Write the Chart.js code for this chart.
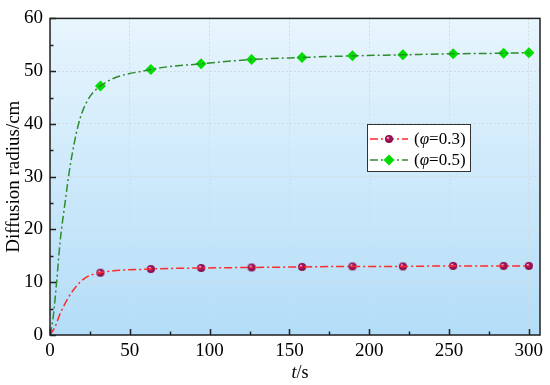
<!DOCTYPE html>
<html>
<head>
<meta charset="utf-8">
<script src="https://cdn.jsdelivr.net/npm/chart.js@4.4.1/dist/chart.umd.min.js"></script>
<style>
  html, body { margin: 0; padding: 0; background: #fff; }
  #wrap { width: 550px; height: 385px; }
  .probe { font-family: 'Liberation Serif'; position: absolute; left: -999px; }
</style>
</head>
<body>
<span class="probe">0 (φ=0.3) t/s</span>
<span class="probe" style="font-style:italic">t φ</span>
<div id="wrap"><canvas id="chart" width="550" height="385"></canvas></div>
<script>
// sampled times (s) for the markers
const markerT = [31.6, 63.2, 94.7, 126.3, 157.9, 189.5, 221.1, 252.6, 284.2, 300];
const radius03 = [11.8, 12.5, 12.7, 12.8, 12.9, 13.0, 13.0, 13.1, 13.1, 13.1];
const radius05 = [47.2, 50.3, 51.4, 52.2, 52.6, 52.9, 53.1, 53.3, 53.4, 53.5];

// early part of the fitted curves
const curveT03 = [0, 3.1, 6.3, 11.5, 16.7, 21.9];
const curveR03 = [0, 1.5, 4.0, 7.1, 9.3, 10.8];
const curveT05 = [0, 2.0, 4.2, 6.3, 9.4, 12.5, 17.7, 22.9];
const curveR05 = [0, 3.4, 10.2, 17.6, 25.0, 31.8, 39.8, 44.1];

const xTicks = [0, 50, 100, 150, 200, 250, 300];
const yTicks = [0, 10, 20, 30, 40, 50, 60];
const legendLabels = ['0.3', '0.5'];

const serif = "'Liberation Serif', serif";

function toPoints(xs, ys) {
	return xs.map(function(x, i) { return { x: x, y: ys[i] }; });
}

// 공 모양 마커
function makeSphere(r) {
	const c = document.createElement('canvas');
	c.width = c.height = r * 2 + 2;
	const g = c.getContext('2d');
	const cx = r + 1;
	const grad = g.createRadialGradient(cx - r * 0.3, cx - r * 0.35, 0.3, cx, cx, r);
	grad.addColorStop(0, '#f4d0e0');
	grad.addColorStop(0.3, '#b81866');
	grad.addColorStop(1, '#7e0a44');
	g.fillStyle = grad;
	g.beginPath();
	g.arc(cx, cx, r, 0, Math.PI * 2);
	g.fill();
	return c;
}
const sphere = makeSphere(4);

const dashDot = [8, 3, 2, 3];

const plotDeco = {
	id: 'plotDeco',
	beforeDraw: function(chart) {
		const a = chart.chartArea;
		const ctx = chart.ctx;
		const grad = ctx.createLinearGradient(0, a.top, 0, a.bottom);
		grad.addColorStop(0, '#e8f5fd');
		grad.addColorStop(1, '#b3ddf8');
		ctx.save();
		ctx.fillStyle = grad;
		ctx.fillRect(a.left, a.top, a.right - a.left, a.bottom - a.top);
		ctx.restore();
	},
	afterDraw: function(chart) {
		const a = chart.chartArea;
		const ctx = chart.ctx;
		const xs = chart.scales.x;
		const ys = chart.scales.y;
		ctx.save();
		// frame
		ctx.strokeStyle = '#222';
		ctx.lineWidth = 1.5;
		ctx.strokeRect(a.left, a.top, a.right - a.left, a.bottom - a.top);
		// inward ticks
		ctx.beginPath();
		for (let v = 0; v <= 300; v += 25) {
			const px = Math.round(xs.getPixelForValue(v)) + 0.5;
			const len = v % 50 === 0 ? 6 : 3.5;
			ctx.moveTo(px, a.bottom);
			ctx.lineTo(px, a.bottom - len);
		}
		for (let v = 0; v <= 60; v += 5) {
			const py = Math.round(ys.getPixelForValue(v)) + 0.5;
			const len = v % 10 === 0 ? 6 : 3.5;
			ctx.moveTo(a.left, py);
			ctx.lineTo(a.left + len, py);
		}
		ctx.stroke();

		// axis titles
		ctx.fillStyle = '#000';
		ctx.textBaseline = 'middle';
		ctx.textAlign = 'left';
		ctx.font = 'italic 18px ' + serif;
		const tW = ctx.measureText('t').width;
		ctx.font = '18px ' + serif;
		const sW = ctx.measureText('/s').width;
		const tx = 300 - (tW + sW) / 2;
		ctx.font = 'italic 18px ' + serif;
		ctx.fillText('t', tx, 373);
		ctx.font = '18px ' + serif;
		ctx.fillText('/s', tx + tW, 373);

		ctx.save();
		ctx.translate(14, (a.top + a.bottom) / 2);
		ctx.rotate(-Math.PI / 2);
		ctx.textAlign = 'center';
		ctx.font = '19px ' + serif;
		ctx.fillText('Diffusion radius/cm', 0, 0);
		ctx.restore();

		// legend box
		const bx = 367, by = 124, bw = 103, bh = 47;
		ctx.fillStyle = '#ffffff';
		ctx.fillRect(bx, by, bw, bh);
		ctx.strokeStyle = '#333';
		ctx.lineWidth = 1;
		ctx.strokeRect(bx + 0.5, by + 0.5, bw, bh);
		const rows = [
			{ y: 139, line: '#ff2a2a', label: legendLabels[0], mark: 'sphere' },
			{ y: 160, line: '#2e8b2e', label: legendLabels[1], mark: 'diamond' }
		];
		rows.forEach(function(r) {
			ctx.strokeStyle = r.line;
			ctx.lineWidth = 1.5;
			ctx.setLineDash(dashDot);
			ctx.beginPath();
			ctx.moveTo(370, r.y);
			ctx.lineTo(408, r.y);
			ctx.stroke();
			ctx.setLineDash([]);
			if (r.mark === 'sphere') {
				ctx.drawImage(sphere, 389 - sphere.width / 2, r.y - sphere.height / 2);
			} else {
				ctx.fillStyle = '#00dd00';
				ctx.beginPath();
				ctx.moveTo(389, r.y - 5.5);
				ctx.lineTo(394.5, r.y);
				ctx.lineTo(389, r.y + 5.5);
				ctx.lineTo(383.5, r.y);
				ctx.closePath();
				ctx.fill();
			}
			ctx.fillStyle = '#000';
			let x = 414;
			const parts = [['(', false], ['\u03c6', true], ['=' + r.label + ')', false]];
			parts.forEach(function(p) {
				ctx.font = (p[1] ? 'italic ' : '') + '17px ' + serif;
				ctx.fillText(p[0], x, r.y + 1);
				x += ctx.measureText(p[0]).width;
			});
		});
		ctx.restore();
	}
};

function drawChart() {
	const ctx = document.getElementById('chart').getContext('2d');
	new Chart(ctx, {
		type: 'scatter',
		data: {
			datasets: [
				{
					label: 'curve 0.3',
					data: toPoints(curveT03.concat(markerT), curveR03.concat(radius03)),
					showLine: true,
					borderColor: '#ff2a2a',
					borderWidth: 1.5,
					borderDash: dashDot,
					pointRadius: 0,
					cubicInterpolationMode: 'monotone',
					fill: false
				},
				{
					label: 'curve 0.5',
					data: toPoints(curveT05.concat(markerT), curveR05.concat(radius05)),
					showLine: true,
					borderColor: '#2e8b2e',
					borderWidth: 1.5,
					borderDash: dashDot,
					pointRadius: 0,
					cubicInterpolationMode: 'monotone',
					fill: false
				},
				{
					label: '(φ=0.3)',
					data: toPoints(markerT, radius03),
					showLine: false,
					pointStyle: sphere,
					pointRadius: 4
				},
				{
					label: '(φ=0.5)',
					data: toPoints(markerT, radius05),
					showLine: false,
					pointStyle: 'rectRot',
					pointRadius: 5.5,
					backgroundColor: '#00dd00',
					borderColor: '#00dd00',
					borderWidth: 0
				}
			]
		},
		options: {
			responsive: false,
			animation: false,
			layout: { padding: { top: 11, right: 10, left: 0, bottom: 0 } },
			plugins: {
				legend: { display: false },
				tooltip: { enabled: false }
			},
			scales: {
				x: {
					type: 'linear',
					min: 0,
					max: 307,
					afterBuildTicks: function(s) {
						s.ticks = xTicks.map(function(v) { return { value: v }; });
					},
					afterFit: function(s) { s.height = 50; },
					grid: { color: '#d3dbe0', lineWidth: 1, drawTicks: false },
					border: { display: false, dash: [2, 2] },
					ticks: {
						color: '#000',
						font: { family: serif, size: 19 },
						padding: 5,
						maxRotation: 0
					}
				},
				y: {
					type: 'linear',
					min: 0,
					max: 60,
					afterBuildTicks: function(s) {
						s.ticks = yTicks.map(function(v) { return { value: v }; });
					},
					afterFit: function(s) { s.width = 50; },
					grid: { color: '#d3dbe0', lineWidth: 1, drawTicks: false },
					border: { display: false, dash: [2, 2] },
					ticks: {
						color: '#000',
						font: { family: serif, size: 19 },
						padding: 7
					}
				}
			}
		},
		plugins: [plotDeco]
	});
}

document.addEventListener('DOMContentLoaded', function() {
	Promise.all([
		document.fonts.load("19px 'Liberation Serif'"),
		document.fonts.load("italic 17px 'Liberation Serif'")
	]).then(drawChart, drawChart);
});
</script>
</body>
</html>
